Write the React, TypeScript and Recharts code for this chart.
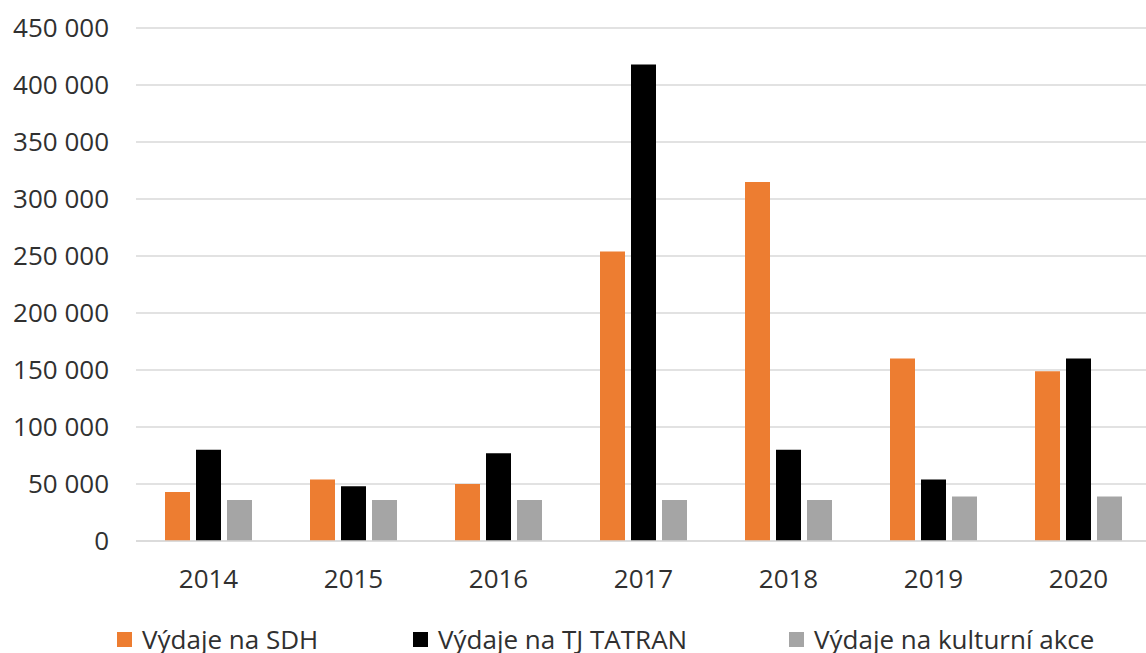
import React from 'react';
import { BarChart, Bar, XAxis, YAxis, CartesianGrid, Legend } from 'recharts';

const years = ['2014', '2015', '2016', '2017', '2018', '2019', '2020'];
const sdh = [43000, 54000, 50000, 254000, 315000, 160000, 149000];
const tatran = [80000, 48000, 77000, 418000, 80000, 54000, 160000];
const kultura = [36000, 36000, 36000, 36000, 36000, 39000, 39000];
const yTicks = [0, 50000, 100000, 150000, 200000, 250000, 300000, 350000, 400000, 450000];
const seriesNames = ['Výdaje na SDH', 'Výdaje na TJ TATRAN', 'Výdaje na kulturní akce'];
const seriesColors = ['#ED7D31', '#000000', '#A5A5A5'];

const data = years.map((y, i) => ({ year: y, sdh: sdh[i], tatran: tatran[i], kultura: kultura[i] }));

const FONT = '"Open Sans", sans-serif';
const TEXT = '#303030';

const fmt = (v: number) => String(v).replace(/\B(?=(\d{3})+(?!\d))/g, ' ');

const legendLefts = [117, 413, 789];

const LegendContent = () => (
  <div style={{ position: 'relative', width: 1146, height: 40 }}>
    {seriesNames.map((n, i) => (
      <div
        key={n}
        style={{
          position: 'absolute',
          left: legendLefts[i],
          top: 12,
          height: 28,
          display: 'flex',
          alignItems: 'center',
          fontFamily: FONT,
          fontSize: 26,
          color: TEXT,
          whiteSpace: 'nowrap',
        }}
      >
        <span style={{ display: 'inline-block', width: 15, height: 15, background: seriesColors[i], marginRight: 10 }} />
        <span>{n}</span>
      </div>
    ))}
  </div>
);

export default function App() {
  return (
    <div style={{ position: 'absolute', left: 0, top: 0, width: 1146, height: 653, overflow: 'hidden', background: '#fff' }}>
      <BarChart
        width={1151}
        height={653}
        data={data}
        margin={{ top: 28, right: 0, bottom: 0, left: 0 }}
        barSize={25}
        barGap={6}
      >
        <CartesianGrid vertical={false} stroke="#D9D9D9" strokeWidth={1.5} />
        <XAxis
          dataKey="year"
          height={72}
          tickLine={false}
          axisLine={{ stroke: '#D9D9D9', strokeWidth: 1.5 }}
          tickSize={0}
          tickMargin={29}
          tick={{ fontFamily: FONT, fontSize: 26, fill: TEXT }}
          interval={0}
        />
        <YAxis
          width={136}
          domain={[0, 450000]}
          ticks={yTicks}
          tickFormatter={fmt}
          axisLine={false}
          tickLine={false}
          tickSize={0}
          tickMargin={27}
          tick={{ fontFamily: FONT, fontSize: 26, fill: TEXT }}
          interval={0}
        />
        <Legend verticalAlign="bottom" content={<LegendContent />} wrapperStyle={{ left: 0, width: 1146, height: 40 }} />
        <Bar dataKey="sdh" name={seriesNames[0]} fill={seriesColors[0]} isAnimationActive={false} />
        <Bar dataKey="tatran" name={seriesNames[1]} fill={seriesColors[1]} isAnimationActive={false} />
        <Bar dataKey="kultura" name={seriesNames[2]} fill={seriesColors[2]} isAnimationActive={false} />
      </BarChart>
    </div>
  );
}
